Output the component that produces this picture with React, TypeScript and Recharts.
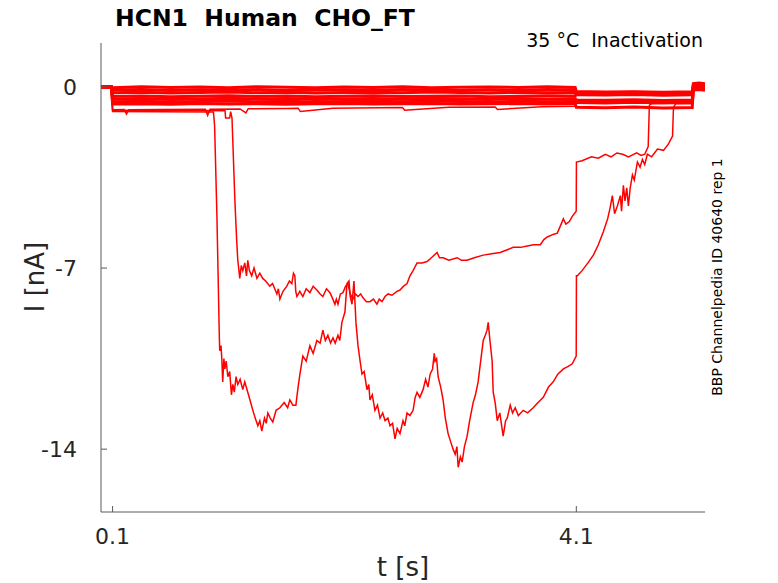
import { LineChart, Line, XAxis, YAxis } from "recharts";

// shared sample times for the small near-zero sweeps
const sweepTimes = [0, 0.09, 0.1, 0.35, 0.6, 0.85, 1.1, 1.35, 1.6, 1.85, 2.1, 2.35, 2.6, 2.85, 3.1, 3.35, 3.6, 3.85, 4.09, 4.1, 4.35, 4.6, 4.85, 5.1, 5.11, 5.16, 5.21];

const sweep1 = [0, 0, -0.03, 0.01, -0.02, 0.0, -0.03, 0.01, -0.01, -0.03, 0.0, -0.02, 0.01, -0.03, -0.01, 0.0, -0.02, 0.01, -0.02, -0.17, -0.19, -0.18, -0.2, -0.18, 0.13, 0.15, 0.12];
const sweep2 = [0, 0, -0.12, -0.1, -0.14, -0.11, -0.13, -0.1, -0.14, -0.12, -0.11, -0.13, -0.1, -0.12, -0.14, -0.11, -0.13, -0.1, -0.12, -0.24, -0.26, -0.23, -0.25, -0.27, 0.05, 0.07, 0.04];
const sweep3 = [0, 0, -0.22, -0.2, -0.23, -0.21, -0.19, -0.22, -0.2, -0.23, -0.21, -0.2, -0.22, -0.19, -0.21, -0.23, -0.2, -0.22, -0.21, -0.3, -0.31, -0.29, -0.32, -0.3, -0.02, 0.0, -0.03];
const sweep4 = [0, 0, -0.37, -0.35, -0.38, -0.36, -0.34, -0.37, -0.35, -0.38, -0.36, -0.34, -0.37, -0.36, -0.35, -0.38, -0.36, -0.34, -0.36, -0.21, -0.22, -0.2, -0.23, -0.21, -0.06, -0.04, -0.07];
const sweep5 = [0, 0, -0.47, -0.45, -0.48, -0.46, -0.44, -0.47, -0.45, -0.48, -0.46, -0.45, -0.47, -0.44, -0.46, -0.48, -0.45, -0.47, -0.46, -0.5, -0.51, -0.49, -0.52, -0.5, 0.1, 0.11, 0.09];
const sweep6 = [0, 0, -0.57, -0.55, -0.58, -0.56, -0.54, -0.57, -0.55, -0.58, -0.56, -0.55, -0.57, -0.54, -0.56, -0.58, -0.55, -0.57, -0.56, -0.6, -0.62, -0.59, -0.61, -0.6, -0.12, -0.1, -0.13];
const sweep7 = [0, 0, -0.66, -0.65, -0.67, -0.64, -0.66, -0.65, -0.67, -0.65, -0.64, -0.66, -0.65, -0.64, -0.66, -0.65, -0.64, -0.66, -0.65, -0.78, -0.8, -0.77, -0.81, -0.79, 0.02, 0.03, 0.01];

// lower sweep with small downward spikes: [t (s), I (nA)]
const spikySweepPts: [number, number][] = [
  [0, 0], [0.09, 0], [0.1, -0.88], [0.2, -0.87], [0.22, -1.05], [0.24, -0.88], [0.5, -0.87], [0.9, -0.86], [0.92, -1.1], [0.94, -0.86],
  [1.2, -0.85], [1.25, -1.0], [1.27, -0.84], [1.6, -0.83], [1.7, -0.82], [1.72, -0.95], [2.0, -0.82], [2.4, -0.8], [2.6, -0.79], [2.62, -0.9],
  [3.0, -0.78], [3.4, -0.77], [3.42, -0.87], [3.8, -0.76], [4.09, -0.75], [4.1, -0.55], [4.5, -0.56], [4.8, -0.54], [5.1, -0.55], [5.11, -0.08], [5.21, -0.07],
];

// deep sweep, opens at ~1.0 s
const deepSweepPts: [number, number][] = [
  [0, 0], [0.09, 0], [0.1, -0.95], [0.5, -0.96], [0.97, -0.97], [0.98, -1.5], [1.0, -5], [1.02, -9.5], [1.024, -10.2], [1.035, -10.0],
  [1.042, -10.5], [1.05, -11.4], [1.06, -10.5], [1.068, -10.9], [1.08, -10.6], [1.094, -11.2], [1.11, -11.0], [1.125, -11.9], [1.137, -11.5], [1.15, -11.8],
  [1.165, -11.2], [1.18, -11.5], [1.2, -11.3], [1.223, -11.7], [1.24, -11.4], [1.266, -11.8], [1.285, -12.1], [1.31, -12.5], [1.33, -12.8], [1.353, -13.1],
  [1.37, -12.9], [1.387, -13.3], [1.41, -12.8], [1.425, -13.0], [1.439, -12.6], [1.46, -12.8], [1.482, -12.95], [1.51, -12.5], [1.543, -12.4], [1.58, -12.2],
  [1.61, -12.4], [1.629, -12.1], [1.655, -12.3], [1.681, -12.3], [1.7, -11.6], [1.716, -11.1], [1.741, -10.4], [1.77, -10.6], [1.802, -10.0], [1.83, -10.3],
  [1.862, -9.8], [1.89, -9.9], [1.914, -9.4], [1.935, -9.8], [1.957, -9.6], [1.98, -9.9], [2.001, -9.7], [2.02, -9.9], [2.044, -9.6], [2.06, -9.8],
  [2.078, -9.1], [2.104, -8.7], [2.122, -7.6], [2.139, -7.5], [2.15, -8.1], [2.165, -8.4], [2.182, -7.5], [2.199, -9.1], [2.217, -10.0], [2.235, -10.6],
  [2.251, -11.1], [2.27, -11.0], [2.294, -11.7], [2.31, -11.5], [2.32, -12.1], [2.34, -11.9], [2.363, -12.5], [2.385, -12.3], [2.407, -12.8], [2.43, -12.6],
  [2.45, -12.9], [2.475, -12.8], [2.493, -13.1], [2.515, -13.0], [2.536, -13.6], [2.555, -13.2], [2.579, -13.4], [2.605, -12.9], [2.62, -13.1], [2.64, -12.6],
  [2.665, -12.7], [2.692, -12.5], [2.71, -12.0], [2.726, -11.8], [2.75, -12.0], [2.778, -11.7], [2.8, -11.3], [2.82, -11.6], [2.839, -11.1], [2.86, -10.9],
  [2.875, -10.3], [2.882, -10.6], [2.895, -10.5], [2.908, -11.2], [2.93, -11.6], [2.951, -12.1], [2.97, -12.8], [2.994, -13.4], [3.015, -13.7], [3.037, -14.0],
  [3.055, -14.2], [3.07, -13.9], [3.081, -14.7], [3.1, -14.3], [3.115, -14.5], [3.135, -13.9], [3.158, -13.5], [3.18, -12.9], [3.21, -12.2], [3.23, -11.9],
  [3.253, -11.4], [3.275, -10.6], [3.297, -9.8], [3.315, -9.6], [3.33, -9.4], [3.34, -9.1], [3.355, -9.8], [3.374, -10.6], [3.383, -11.8], [3.4, -12.2],
  [3.418, -12.9], [3.44, -12.6], [3.469, -13.5], [3.49, -12.9], [3.504, -12.8], [3.53, -12.3], [3.55, -12.6], [3.573, -12.4], [3.6, -12.7], [3.642, -12.5],
  [3.68, -12.6], [3.728, -12.4], [3.77, -12.2], [3.815, -12.0], [3.86, -11.6], [3.901, -11.4], [3.94, -11.1], [3.988, -10.9], [4.03, -10.8], [4.065, -10.7],
  [4.099, -10.4], [4.101, -7.3], [4.109, -7.3], [4.15, -7.1], [4.2, -6.8], [4.247, -6.5], [4.29, -6.1], [4.333, -5.6], [4.37, -5.1], [4.39, -4.7],
  [4.411, -4.2], [4.43, -4.9], [4.454, -4.6], [4.48, -4.2], [4.49, -4.8], [4.506, -3.8], [4.52, -4.4], [4.535, -3.9], [4.549, -4.6], [4.565, -3.9],
  [4.584, -3.4], [4.6, -3.6], [4.627, -2.9], [4.65, -3.1], [4.67, -2.8], [4.69, -3.0], [4.713, -2.6], [4.75, -2.7], [4.8, -2.4], [4.852, -2.45],
  [4.895, -2.2], [4.93, -1.9], [4.938, -0.8], [4.956, -0.65], [5.1, -0.65], [5.11, 0.05], [5.21, 0.06],
];

// mid sweep, opens at ~1.13 s
const midSweepPts: [number, number][] = [
  [0, 0], [0.09, 0], [0.1, -0.9], [0.6, -0.9], [1.07, -0.92], [1.075, -1.2], [1.11, -1.2], [1.118, -0.95], [1.13, -1.2], [1.155, -4.4],
  [1.17, -5.9], [1.18, -6.7], [1.19, -7.1], [1.197, -7.4], [1.21, -6.9], [1.223, -7.1], [1.24, -6.8], [1.255, -7.3], [1.266, -6.7], [1.28, -7.1],
  [1.3, -7.3], [1.32, -7.0], [1.345, -7.4], [1.37, -7.2], [1.395, -7.4], [1.42, -7.5], [1.456, -7.7], [1.48, -7.6], [1.517, -8.0], [1.53, -7.8],
  [1.543, -8.2], [1.57, -7.9], [1.603, -7.7], [1.625, -7.5], [1.646, -7.6], [1.66, -7.2], [1.672, -7.3], [1.68, -7.9], [1.69, -8.1], [1.715, -7.9],
  [1.741, -8.1], [1.77, -7.8], [1.802, -7.95], [1.83, -7.7], [1.862, -7.85], [1.89, -8.0], [1.914, -8.1], [1.945, -7.8], [1.975, -7.95], [2.0, -8.2],
  [2.018, -8.4], [2.03, -8.2], [2.044, -8.4], [2.065, -8.0], [2.087, -7.95], [2.11, -7.7], [2.13, -7.6], [2.15, -8.0], [2.173, -8.2], [2.195, -8.0],
  [2.217, -8.1], [2.24, -8.0], [2.26, -8.15], [2.29, -8.3], [2.32, -8.3], [2.35, -8.2], [2.38, -8.4], [2.4, -8.2], [2.424, -8.3], [2.45, -8.1],
  [2.476, -8.0], [2.51, -8.05], [2.553, -7.9], [2.579, -7.85], [2.61, -7.7], [2.64, -7.6], [2.665, -7.3], [2.692, -7.1], [2.726, -6.8], [2.77, -6.8],
  [2.812, -6.75], [2.85, -6.6], [2.899, -6.4], [2.92, -6.6], [2.951, -6.6], [3.0, -6.7], [3.072, -6.6], [3.11, -6.7], [3.158, -6.7], [3.22, -6.6],
  [3.297, -6.5], [3.37, -6.45], [3.443, -6.4], [3.5, -6.3], [3.556, -6.2], [3.62, -6.2], [3.677, -6.15], [3.73, -6.1], [3.79, -6.1], [3.82, -5.9],
  [3.85, -5.8], [3.9, -5.7], [3.936, -5.65], [3.96, -5.4], [3.988, -5.1], [4.01, -5.3], [4.04, -5.2], [4.065, -5.0], [4.099, -4.8], [4.101, -2.9],
  [4.15, -2.85], [4.23, -2.7], [4.29, -2.75], [4.35, -2.6], [4.4, -2.7], [4.45, -2.55], [4.5, -2.6], [4.55, -2.7], [4.62, -2.55], [4.66, -2.65],
  [4.69, -2.6], [4.72, -2.3], [4.73, -0.7], [4.75, -0.65], [5.1, -0.62], [5.11, 0.1], [5.21, 0.1],
];

const xTicks = [0.1, 4.1];
const yTicks = [0, -7, -14];

const pair = (ts: number[], vs: number[]) => ts.map((t, k) => ({ t, i: vs[k] }));
const fromPts = (pts: [number, number][]) => pts.map(([t, i]) => ({ t, i }));

const smallSweeps = [sweep1, sweep2, sweep3, sweep4, sweep5, sweep6, sweep7].map((v) => pair(sweepTimes, v));
const spikySweep = fromPts(spikySweepPts);
const deepSweep = fromPts(deepSweepPts);
const midSweep = fromPts(midSweepPts);

const RED = "#ff0000";
const AXIS = "#5a5a5a";
const FONT = "DejaVu Sans";

export default function App() {
  return (
    <div style={{ position: "absolute", left: 0, top: 0, width: 778, height: 583, background: "#fff" }}>
      <LineChart width={778} height={583} margin={{ top: 43, right: 73, bottom: 0, left: 0 }}>
        <XAxis
          dataKey="t"
          type="number"
          domain={[0, 5.21]}
          ticks={xTicks}
          tickFormatter={(v) => v.toFixed(1)}
          height={71}
          stroke={AXIS}
          tickSize={-6}
          tickMargin={22}
          tick={{ fill: "#262626", fontSize: 22, fontFamily: FONT }}
          allowDataOverflow
        />
        <YAxis
          dataKey="i"
          type="number"
          domain={[-16.43, 1.7]}
          ticks={yTicks}
          width={101}
          stroke={AXIS}
          tickSize={-6}
          tickMargin={30}
          tick={{ fill: "#262626", fontSize: 22, fontFamily: FONT }}
          allowDataOverflow
        />
        {smallSweeps.map((d, k) => (
          <Line key={k} data={d} dataKey="i" type="linear" stroke={RED} strokeWidth={3} dot={false} isAnimationActive={false} />
        ))}
        <Line data={spikySweep} dataKey="i" type="linear" stroke={RED} strokeWidth={1.5} dot={false} isAnimationActive={false} />
        <Line data={midSweep} dataKey="i" type="linear" stroke={RED} strokeWidth={1.5} dot={false} isAnimationActive={false} />
        <Line data={deepSweep} dataKey="i" type="linear" stroke={RED} strokeWidth={1.5} dot={false} isAnimationActive={false} />
        <text x={115} y={26} fontFamily={FONT} fontWeight="bold" fontSize={23.5} fill="#000" style={{ whiteSpace: "pre" }}>
          HCN1  Human  CHO_FT
        </text>
        <text x={703} y={47} textAnchor="end" fontFamily={FONT} fontSize={19} fill="#000" style={{ whiteSpace: "pre" }}>
          35 °C  Inactivation
        </text>
        <text x={722} y={277} transform="rotate(-90 722 277)" textAnchor="middle" fontFamily={FONT} fontSize={14} fill="#000">
          BBP Channelpedia ID 40640 rep 1
        </text>
        <text x={44} y={277} transform="rotate(-90 44 277)" textAnchor="middle" fontFamily={FONT} fontSize={26} fill="#262626">
          I [nA]
        </text>
        <text x={403} y={576} textAnchor="middle" fontFamily={FONT} fontSize={26} fill="#262626">
          t [s]
        </text>
      </LineChart>
    </div>
  );
}
